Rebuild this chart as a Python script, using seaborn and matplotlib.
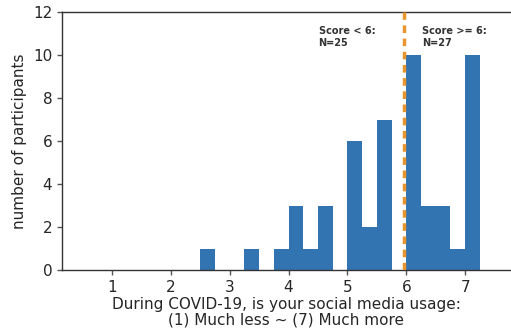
import numpy as np
import pandas as pd
import matplotlib
matplotlib.use("Agg")
import matplotlib.pyplot as plt
import seaborn as sns

# histogram bins (left edges, width 0.25) and counts
bin_lefts = [2.5, 3.25, 3.75, 4.0, 4.25, 4.5, 5.0, 5.25, 5.5, 6.0, 6.25, 6.5, 6.75, 7.0]
counts = [1, 1, 1, 3, 1, 3, 6, 2, 7, 10, 3, 3, 1, 10]
threshold = 6
group_labels = ["Score < 6:\nN=25", "Score >= 6:\nN=27"]

df = pd.DataFrame({"score": np.array(bin_lefts) + 0.125, "n": counts})

sns.set_style("white")
plt.rcParams["font.family"] = ["DejaVu Sans"]

fig = plt.figure(figsize=(5.11, 3.35), dpi=100)
ax = fig.add_axes([62 / 511, 65 / 335, 449 / 511, 258 / 335])

sns.histplot(data=df, x="score", weights="n", binwidth=0.25, binrange=(2.5, 7.25),
             color="#3274b1", alpha=1, linewidth=0, ax=ax)

ax.axvline(5.96, color="#e8952e", linestyle=(0, (2.2, 1.6)), linewidth=2.5, zorder=3)

ax.text(4.51, 11.35, group_labels[0], fontsize=7, fontweight="bold",
        color="#333333", va="top", ha="left")
ax.text(6.27, 11.35, group_labels[1], fontsize=7, fontweight="bold",
        color="#333333", va="top", ha="left")

ax.set_xlim(0.15, 7.78)
ax.set_ylim(0, 12)
ax.set_xticks([1, 2, 3, 4, 5, 6, 7])
ax.set_yticks([0, 2, 4, 6, 8, 10, 12])
ax.tick_params(axis="both", labelsize=11, length=3.5, width=1, color="#555555", bottom=True, left=True)
ax.set_xlabel("During COVID-19, is your social media usage:\n(1) Much less ~ (7) Much more",
              fontsize=11, linespacing=1.0, labelpad=2)
ax.set_ylabel("number of participants", fontsize=11)

for side in ["left", "bottom", "top"]:
    ax.spines[side].set_color("#333333")
    ax.spines[side].set_linewidth(1)
ax.spines["right"].set_visible(False)

fig.savefig("out.png", dpi=100)
